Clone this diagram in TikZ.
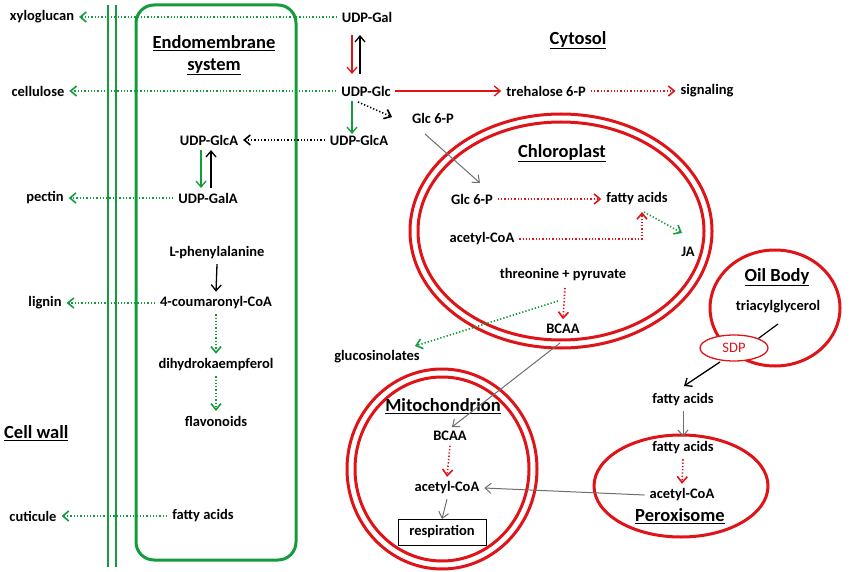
\documentclass[tikz,border=0pt]{standalone}
\usepackage{fontspec}
\setmainfont{Carlito}
\usetikzlibrary{arrows.meta,shapes.geometric}
\definecolor{rd}{RGB}{222,20,25}
\definecolor{gn}{RGB}{20,155,60}
\definecolor{gy}{RGB}{110,110,110}
\begin{document}
\begin{tikzpicture}[x=1pt,y=-1pt,
  t/.style={font=\bfseries\fontsize{14.5}{16}\selectfont,inner sep=1pt,outer sep=4pt},
  ttl/.style={font=\bfseries\fontsize{18.5}{22}\selectfont,inner sep=1pt},
  a/.style={-{Straight Barb[length=6pt,width=10pt]},line width=1.3pt},
  dt/.style={a,dotted,line width=1.6pt},
  mem/.style={draw=rd,line width=3pt}]
\useasboundingbox (0,0) rectangle (851,572);
% cell wall & endomembrane
\draw[gn,line width=2.5pt] (108,5) -- (108,567) (116,5) -- (116,567);
\draw[gn,line width=3pt,rounded corners=18pt] (136,5) rectangle (296,560);
\node[ttl] (em1) at (214,43) {\underline{Endomembrane}};
\node[ttl] (em2) at (214,67) {\underline{system}};
\node[ttl,anchor=west] (cw) at (3,433) {\underline{Cell wall}};
\node[ttl] (cyt) at (578,40) {\underline{Cytosol}};
% left labels
\node[t] (xyl) at (42,17) {xyloglucan};
\node[t] (cel) at (38,91) {cellulose};
\node[t] (pec) at (45,198) {pectin};
\node[t] (lig) at (45,303) {lignin};
\node[t] (cut) at (33,516) {cuticule};
% cytosol
\node[t] (gal) at (367,17) {UDP-Gal};
\node[t] (glc) at (366,91) {UDP-Glc};
\node[t] (glca) at (359,140) {UDP-GlcA};
\node[t] (g6p) at (433,118) {Glc 6-P};
\node[t] (tre) at (546,91) {trehalose 6-P};
\node[t] (sig) at (707,91) {signaling};
% endomembrane contents
\node[t] (eglca) at (209,140) {UDP-GlcA};
\node[t] (egala) at (208,198) {UDP-GalA};
\node[t] (phe) at (217,253) {L-phenylalanine};
\node[t] (cou) at (216,303) {4-coumaronyl-CoA};
\node[t] (dih) at (216,365) {dihydrokaempferol};
\node[t] (fla) at (216,421) {flavonoids};
\node[t] (efa) at (203,516) {fatty acids};
% green dotted exports
\draw[dt,gn] (gal.west) -- (xyl.east);
\draw[dt,gn] (glc.west) -- (cel.east);
\draw[dt,gn] (egala.west) -- (pec.east);
\draw[dt,gn] (cou.west) -- (lig.east);
\draw[dt,gn] (efa.west) -- (cut.east);
\draw[dt,black] (glca.west) -- (eglca.east);
% cytosol arrows
\draw[a,rd] (352,35) -- (352,74);
\draw[a,black] (360,74) -- (360,35);
\draw[a,gn] (352,101) -- (352,134);
\draw[dt,black] (358,102) -- (392,117);
\draw[a,rd] (395,91) -- (tre.west);
\draw[dt,rd] (tre.east) -- (sig.west);
\draw[a,gn] (201,150) -- (201,188);
\draw[a,black] (211,188) -- (211,150);
\draw[a,black] (phe.south) -- (cou.north);
\draw[dt,gn] (cou.south) -- (dih.north);
\draw[dt,gn] (dih.south) -- (fla.north);
% chloroplast
\draw[mem] (561,231) ellipse [x radius=151,y radius=117];
\draw[mem] (561,231) ellipse [x radius=143,y radius=109];
\node[ttl] (chl) at (562,153) {\underline{Chloroplast}};
\node[t] (cg6p) at (472,199) {Glc 6-P};
\node[t] (cfa) at (637,199) {fatty acids};
\node[t] (cac) at (482,239) {acetyl-CoA};
\node[t] (ja) at (688,252) {JA};
\node[t] (thr) at (563,275) {threonine + pyruvate};
\node[t] (bcaa) at (563,329) {BCAA};
\node[t] (glu) at (377,357) {glucosinolates};
\draw[a,gy,line width=1pt] (425,134) -- (480,183);
\draw[dt,rd] (cg6p.east) -- (cfa.west);
\coordinate (cor) at (642,239);
\draw[dt,rd] (cac.east) -- (cor) -- (642,212);
\draw[dt,gn] (644,212) -- (682,233);
\draw[dt,rd] (565,288) -- (bcaa.north);
\draw[dt,gn] (558,301) -- (415,346);
% mitochondrion
\draw[mem] (442,469) ellipse [x radius=95,y radius=100];
\draw[mem] (442,469) ellipse [x radius=87,y radius=92];
\node[ttl] (mit) at (443,406) {\underline{Mitochondrion}};
\node[t] (mb) at (450,436) {BCAA};
\node[t] (mac) at (447,488) {acetyl-CoA};
\node[t,draw,line width=1pt,minimum width=88pt,minimum height=26pt,inner sep=2pt,outer sep=0pt] (resp) at (442,532) {respiration};
\draw[a,gy,line width=1pt] (560,343) -- (452,427);
\draw[dt,rd] (mb.south) -- (mac.north);
\draw[a,gy,line width=1pt] (mac.south) -- (resp.north);
% oil body
\draw[mem] (775,308) ellipse [x radius=65,y radius=58];
\node[ttl] (oil) at (777,277) {\underline{Oil Body}};
\node[t] (tag) at (778,307) {triacylglycerol};
\node[draw=rd,fill=white,text=rd,ellipse,line width=1.3pt,minimum width=68pt,minimum height=26pt,inner sep=0pt,font=\fontsize{14.5}{16}\selectfont] (sdp) at (734,348) {SDP};
\draw[line width=1.2pt] (778,324) -- (sdp.north east);
% peroxisome
\node[t] (pfa0) at (683,400) {fatty acids};
\draw[mem] (681,486) ellipse [x radius=87,y radius=51];
\node[t] (pfa) at (683,448) {fatty acids};
\node[t] (pac) at (682,495) {acetyl-CoA};
\node[ttl] (per) at (680,516) {\underline{Peroxisome}};
\draw[a,black] (720,362) -- (684,386);
\draw[a,gy,line width=1pt] (pfa0.south) -- (pfa.north);
\draw[dt,rd] (pfa.south) -- (pac.north);
\draw[a,gy,line width=1pt] (pac.west) -- (mac.east);
\end{tikzpicture}
\end{document}
